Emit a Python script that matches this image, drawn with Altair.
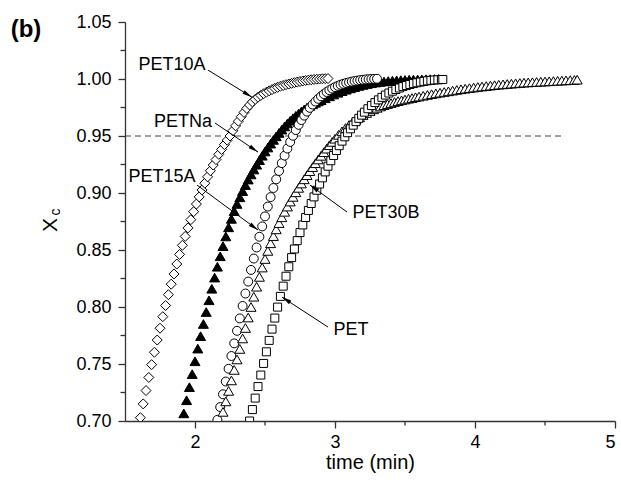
import altair as alt
import pandas as pd

# ---------------- data ----------------
t_pet10a = [1.61, 1.63, 1.65, 1.67, 1.69, 1.71, 1.73, 1.75, 1.77, 1.79, 1.81, 1.83, 1.85, 1.87, 1.89,
            1.91, 1.93, 1.95, 1.97, 1.99, 2.01, 2.03, 2.05, 2.07, 2.09, 2.11, 2.13, 2.15, 2.17, 2.19,
            2.21, 2.23, 2.25, 2.27, 2.29, 2.31, 2.33, 2.35, 2.37, 2.39, 2.41, 2.43, 2.45, 2.47, 2.49,
            2.51, 2.53, 2.55, 2.57, 2.59, 2.61, 2.63, 2.65, 2.67, 2.69, 2.71, 2.73, 2.75, 2.77, 2.79,
            2.81, 2.83, 2.85, 2.87, 2.89, 2.91, 2.93, 2.95]
x_pet10a = [0.7029, 0.7150, 0.7267, 0.7382, 0.7494, 0.7603, 0.7710, 0.7814, 0.7915, 0.8013, 0.8108,
            0.8200, 0.8290, 0.8377, 0.8461, 0.8541, 0.8619, 0.8694, 0.8766, 0.8836, 0.8903, 0.8966,
            0.9027, 0.9086, 0.9142, 0.9195, 0.9245, 0.9293, 0.9339, 0.9382, 0.9424, 0.9463, 0.9500,
            0.9546, 0.9589, 0.9630, 0.9669, 0.9707, 0.9742, 0.9772, 0.9799, 0.9821, 0.9840, 0.9856,
            0.9871, 0.9884, 0.9896, 0.9907, 0.9918, 0.9927, 0.9936, 0.9943, 0.9950, 0.9956, 0.9962,
            0.9968, 0.9973, 0.9978, 0.9983, 0.9987, 0.9990, 0.9993, 0.9996, 0.9998, 1.0000, 1.0002,
            1.0003, 1.0004]

t_petna = [1.90, 1.92, 1.94, 1.96, 1.98, 2.00, 2.02, 2.04, 2.06, 2.08, 2.10, 2.12, 2.14, 2.16, 2.18,
           2.20, 2.22, 2.24, 2.26, 2.28, 2.30, 2.32, 2.34, 2.36, 2.38, 2.40, 2.42, 2.44, 2.46, 2.48,
           2.50, 2.52, 2.54, 2.56, 2.58, 2.60, 2.62, 2.64, 2.66, 2.68, 2.70, 2.72, 2.74, 2.76, 2.78,
           2.80, 2.82, 2.84, 2.86, 2.88, 2.90, 2.93, 2.96, 2.99, 3.02, 3.05, 3.08, 3.11, 3.14, 3.17,
           3.20, 3.23, 3.26, 3.29, 3.32, 3.35, 3.38, 3.41, 3.44, 3.47, 3.50, 3.53, 3.56, 3.59, 3.62,
           3.65, 3.68, 3.71, 3.74]
x_petna = [0.6950, 0.7067, 0.7182, 0.7297, 0.7411, 0.7524, 0.7635, 0.7744, 0.7851, 0.7956, 0.8059,
           0.8160, 0.8258, 0.8353, 0.8445, 0.8534, 0.8619, 0.8699, 0.8773, 0.8841, 0.8904, 0.8962,
           0.9017, 0.9069, 0.9118, 0.9163, 0.9206, 0.9248, 0.9288, 0.9327, 0.9364, 0.9399, 0.9433,
           0.9466, 0.9497, 0.9527, 0.9556, 0.9584, 0.9610, 0.9634, 0.9656, 0.9677, 0.9697, 0.9716,
           0.9733, 0.9749, 0.9764, 0.9778, 0.9791, 0.9803, 0.9814, 0.9831, 0.9848, 0.9864, 0.9879,
           0.9893, 0.9906, 0.9918, 0.9929, 0.9939, 0.9948, 0.9956, 0.9963, 0.9969, 0.9974, 0.9978,
           0.9982, 0.9985, 0.9988, 0.9990, 0.9992, 0.9994, 0.9995, 0.9996, 0.9997, 0.9998, 0.9999,
           1.0000, 1.0001]

t_pet15a = [2.16, 2.18, 2.20, 2.22, 2.24, 2.26, 2.28, 2.30, 2.32, 2.34, 2.36, 2.38, 2.40, 2.42, 2.44,
            2.46, 2.48, 2.50, 2.52, 2.54, 2.56, 2.58, 2.60, 2.62, 2.64, 2.66, 2.68, 2.70, 2.72, 2.74,
            2.76, 2.78, 2.80, 2.82, 2.84, 2.86, 2.88, 2.90, 2.92, 2.94, 2.96, 2.98, 3.00, 3.02, 3.04,
            3.06, 3.08, 3.10, 3.12, 3.14, 3.16, 3.18, 3.20, 3.22, 3.24, 3.26, 3.28, 3.30]
x_pet15a = [0.7010, 0.7122, 0.7234, 0.7346, 0.7458, 0.7570, 0.7681, 0.7791, 0.7900, 0.8009, 0.8118,
            0.8223, 0.8325, 0.8425, 0.8522, 0.8616, 0.8707, 0.8795, 0.8881, 0.8964, 0.9044, 0.9120,
            0.9193, 0.9262, 0.9328, 0.9390, 0.9448, 0.9502, 0.9552, 0.9598, 0.9640, 0.9679, 0.9714,
            0.9747, 0.9776, 0.9802, 0.9826, 0.9848, 0.9868, 0.9886, 0.9902, 0.9916, 0.9929, 0.9940,
            0.9950, 0.9958, 0.9965, 0.9971, 0.9977, 0.9982, 0.9986, 0.9990, 0.9993, 0.9996, 0.9998,
            1.0000, 1.0001, 1.0002]

t_pet30b = [2.20, 2.22, 2.24, 2.26, 2.28, 2.30, 2.32, 2.34, 2.36, 2.38, 2.40, 2.42, 2.44, 2.46, 2.48,
            2.50, 2.52, 2.54, 2.56, 2.58, 2.60, 2.62, 2.64, 2.66, 2.68, 2.70, 2.72, 2.74, 2.76, 2.78,
            2.80, 2.82, 2.84, 2.86, 2.88, 2.90, 2.92, 2.94, 2.96, 2.98, 3.00,
            3.025, 3.05, 3.075, 3.10, 3.125, 3.15, 3.175, 3.20, 3.225, 3.25, 3.275, 3.30, 3.325, 3.35,
            3.375, 3.40, 3.425, 3.45, 3.475, 3.50, 3.525, 3.55, 3.575, 3.60,
            3.63, 3.66, 3.69, 3.72, 3.75, 3.78, 3.81, 3.84, 3.87, 3.90, 3.93, 3.96, 3.99, 4.02, 4.05,
            4.08, 4.11, 4.14, 4.17, 4.20, 4.23, 4.26, 4.29, 4.32, 4.35, 4.38, 4.41, 4.44, 4.47, 4.50,
            4.53, 4.56, 4.59, 4.62, 4.65, 4.68, 4.71, 4.73]
x_pet30b = [0.7080, 0.7172, 0.7264, 0.7356, 0.7448, 0.7540, 0.7632, 0.7724, 0.7816, 0.7908, 0.8000,
            0.8090, 0.8178, 0.8264, 0.8346, 0.8421, 0.8492, 0.8559, 0.8622, 0.8681, 0.8736, 0.8787,
            0.8835, 0.8881, 0.8925, 0.8966, 0.9006, 0.9045, 0.9083, 0.9120, 0.9156, 0.9192, 0.9227,
            0.9261, 0.9294, 0.9326, 0.9358, 0.9389, 0.9419, 0.9448, 0.9476,
            0.9510, 0.9541, 0.9570, 0.9596, 0.9620, 0.9643, 0.9664, 0.9684, 0.9702, 0.9719, 0.9734,
            0.9747, 0.9759, 0.9770, 0.9780, 0.9789, 0.9798, 0.9806, 0.9813, 0.9820, 0.9827, 0.9833,
            0.9840, 0.9846,
            0.9853, 0.9860, 0.9867, 0.9874, 0.9880, 0.9886, 0.9892, 0.9898, 0.9904, 0.9910, 0.9915,
            0.9920, 0.9925, 0.9930, 0.9934, 0.9938, 0.9942, 0.9946, 0.9950, 0.9953, 0.9956, 0.9959,
            0.9962, 0.9965, 0.9968, 0.9970, 0.9972, 0.9974, 0.9976, 0.9978, 0.9980, 0.9982, 0.9984,
            0.9986, 0.9988, 0.9990, 0.9992, 0.9994]

t_pet = [2.39, 2.41, 2.43, 2.45, 2.47, 2.49, 2.51, 2.53, 2.55, 2.57, 2.59, 2.61, 2.63, 2.65, 2.67,
         2.69, 2.71, 2.73, 2.75, 2.77, 2.79, 2.81, 2.83, 2.85, 2.87, 2.89, 2.91, 2.93, 2.95, 2.97,
         2.99, 3.01, 3.03, 3.05, 3.07, 3.09, 3.11, 3.13, 3.15, 3.17, 3.19, 3.21,
         3.235, 3.26, 3.285, 3.31, 3.335, 3.36, 3.385, 3.41, 3.435, 3.46, 3.485, 3.51, 3.535, 3.56,
         3.585, 3.61, 3.635, 3.66, 3.685, 3.71, 3.735, 3.76, 3.77]
x_pet = [0.7000, 0.7100, 0.7201, 0.7302, 0.7403, 0.7505, 0.7607, 0.7707, 0.7806, 0.7903, 0.7999,
         0.8093, 0.8183, 0.8270, 0.8353, 0.8433, 0.8509, 0.8582, 0.8653, 0.8720, 0.8785, 0.8847,
         0.8908, 0.8966, 0.9024, 0.9079, 0.9133, 0.9185, 0.9235, 0.9283, 0.9329, 0.9373, 0.9415,
         0.9455, 0.9493, 0.9529, 0.9563, 0.9595, 0.9626, 0.9655, 0.9683, 0.9709,
         0.9739, 0.9767, 0.9793, 0.9817, 0.9839, 0.9859, 0.9877, 0.9893, 0.9908, 0.9921, 0.9933,
         0.9943, 0.9952, 0.9960, 0.9967, 0.9973, 0.9979, 0.9984, 0.9988, 0.9991, 0.9993, 0.9995,
         0.9996]

# reference line (Xc = 0.95) and its extent
ref_level = [0.95]
ref_span = [1.5, 4.64]

# tick values
x_major = [2, 3, 4, 5]
x_minor = [2.5, 3.5, 4.5]
y_major = [0.70, 0.75, 0.80, 0.85, 0.90, 0.95, 1.00, 1.05]
y_minor = [0.725, 0.775, 0.825, 0.875, 0.925, 0.975, 1.025]

# annotation labels and arrows (data coordinates)
ann_label = ["PET10A", "PETNa", "PET15A", "PET30B", "PET"]
ann_tx = [1.836, 1.914, 1.764, 3.364, 3.114]
ann_ty = [1.0122, 0.9622, 0.914, 0.8824, 0.780]
arr_x0 = [2.093, 2.143, 2.014, 3.086, 2.950]
arr_y0 = [1.0078, 0.9614, 0.907, 0.8833, 0.7824]
arr_x1 = [2.407, 2.450, 2.450, 2.821, 2.621]
arr_y1 = [0.9841, 0.9359, 0.8675, 0.907, 0.8087]
arr_ang = [121.5, 124.0, 126.4, 306.0, 303.0]

# ---------------- chart ----------------
FONT = "Liberation Sans"
AX = "#333333"

xs = alt.Scale(domain=[1.5, 5], nice=False, zero=False)
ys = alt.Scale(domain=[0.70, 1.05], nice=False, zero=False)
xaxis = alt.Axis(values=x_major, format="d", title="time (min)", grid=False,
                 labelPadding=5, titlePadding=1)
yaxis = alt.Axis(values=y_major, format=".2f", title=None, grid=False, labelPadding=7)


def X(f):
    return alt.X(f, type="quantitative", scale=xs, axis=xaxis)


def Y(f):
    return alt.Y(f, type="quantitative", scale=ys, axis=yaxis)


def series(ts, xs_, shape, size, fill):
    df = pd.DataFrame({"t": ts[:len(xs_)], "xc": xs_[:len(ts)]})
    return alt.Chart(df).mark_point(shape=shape, size=size, filled=True, fill=fill,
                                     stroke="black", strokeWidth=1, opacity=1,
                                     clip=True).encode(x=X("t"), y=Y("xc"))


ref = alt.Chart(pd.DataFrame({"x0": [ref_span[0]], "x1": [ref_span[1]], "y": ref_level})).mark_rule(
    color="#444444", strokeWidth=1, strokeDash=[6, 4]).encode(x=X("x0"), x2="x1", y=Y("y"))

xminor = alt.Chart(pd.DataFrame({"v": x_minor})).mark_rule(color=AX, strokeWidth=1.3).encode(
    x=X("v"), y=alt.value(399), y2=alt.value(403.5))
yminor = alt.Chart(pd.DataFrame({"v": y_minor})).mark_rule(color=AX, strokeWidth=1.3).encode(
    y=Y("v"), x=alt.value(0), x2=alt.value(-4.5))

l10a = series(t_pet10a, x_pet10a, "diamond", 100, "white")
lna = series(t_petna, x_petna, "triangle-up", 100, "black")
l15a = series(t_pet15a, x_pet15a, "circle", 80, "white")
l30b = series(t_pet30b, x_pet30b, "triangle-up", 100, "white")
lpet = series(t_pet, x_pet, "square", 64, "white")

ann = pd.DataFrame({"label": ann_label, "tx": ann_tx, "ty": ann_ty,
                    "x0": arr_x0, "y0": arr_y0, "x1": arr_x1, "y1": arr_y1, "ang": arr_ang})
arrows = alt.Chart(ann).mark_rule(color="black", strokeWidth=1).encode(
    x=X("x0"), y=Y("y0"), x2="x1", y2="y1")
heads = alt.Chart(ann).mark_point(shape="M0,0 L-0.35,1.6 L0.35,1.6 Z", size=150, filled=True,
                                  color="black", opacity=1).encode(
    x=X("x1"), y=Y("y1"), angle=alt.Angle("ang:Q", scale=None))
labels = alt.Chart(ann).mark_text(font=FONT, fontSize=18, align="center", baseline="middle",
                                  color="black").encode(x=X("tx"), y=Y("ty"), text="label:N")

one = pd.DataFrame({"k": [0]})
panel = alt.Chart(one).mark_text(font=FONT, fontSize=24, fontWeight="bold", align="center",
                                 baseline="middle", color="black").encode(
    x=alt.value(-99), y=alt.value(8), text=alt.value("(b)"))
ytitle_x = alt.Chart(one).mark_text(font=FONT, fontSize=21, angle=270, align="center",
                                    baseline="middle", color="black").encode(
    x=alt.value(-74), y=alt.value(203), text=alt.value("X"))
ytitle_c = alt.Chart(one).mark_text(font=FONT, fontSize=14, angle=270, align="center",
                                    baseline="middle", color="black").encode(
    x=alt.value(-69), y=alt.value(190), text=alt.value("c"))

chart = alt.layer(
    ref, xminor, yminor, l10a, lna, l15a, l30b, lpet, arrows, heads, labels, panel, ytitle_x, ytitle_c
).properties(
    width=490, height=399,
    padding={"left": 125, "top": 22, "right": 6, "bottom": 62},
    autosize=alt.AutoSizeParams(type="none"),
).configure_axis(
    domainColor=AX, domainWidth=1.3, tickColor=AX, tickWidth=1.3, tickSize=7,
    labelFont=FONT, labelFontSize=18, labelColor="black",
    titleFont=FONT, titleFontSize=20, titleFontWeight="normal", titleColor="black",
).configure_view(stroke=None)

chart.save("out.html", embed_options={"renderer": "svg", "actions": False})
